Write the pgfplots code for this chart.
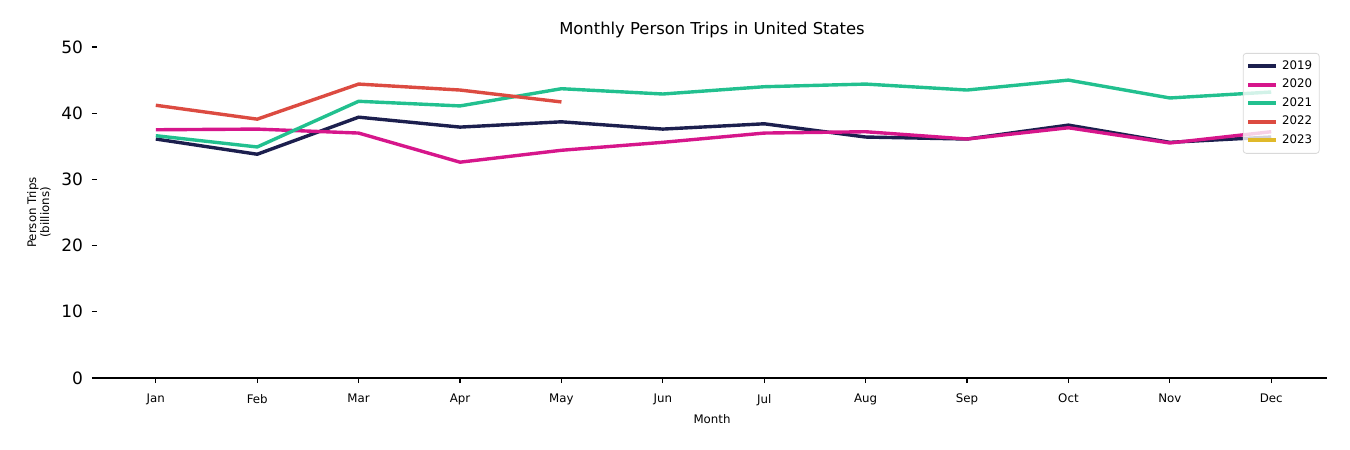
\documentclass[border=0pt]{standalone}
\usepackage{fontspec}
\setmainfont{DejaVu Sans}
\usepackage{pgfplots}
\pgfplotsset{compat=1.18}

\definecolor{c19}{HTML}{1C1F4E}
\definecolor{c20}{HTML}{D6168B}
\definecolor{c21}{HTML}{22C08F}
\definecolor{c22}{HTML}{DC4B41}
\definecolor{c23}{HTML}{E0B92A}

\begin{document}
\begin{tikzpicture}
\useasboundingbox (-48.5pt,-36pt) rectangle (626.5pt,189pt);
\begin{axis}[
scale only axis,
width=615pt, height=165.5pt,
xmin=-0.58, xmax=11.55,
ymin=0, ymax=50,
xtick={0,...,11},
xticklabels={Jan,Feb,Mar,Apr,May,Jun,Jul,Aug,Sep,Oct,Nov,Dec},
ytick={0,10,20,30,40,50},
axis x line*=bottom,
axis y line*=left,
y axis line style={draw=none},
x axis line style={line width=0.6pt},
tick align=outside,
major tick length=2.5pt,
tick style={black, line width=0.6pt},
/pgf/number format/assume math mode=true,
x tick label style={font=\fontsize{5.9}{7}\selectfont, yshift=-2pt},
y tick label style={font=\fontsize{8.5}{10}\selectfont, xshift=-1pt},
title={Monthly Person Trips in United States},
title style={font=\fontsize{8.2}{10}\selectfont, yshift=-5pt},
xlabel={Month},
xlabel style={font=\fontsize{5.9}{7}\selectfont, yshift=2.5pt},
ylabel={Person Trips\\(billions)},
ylabel style={font=\fontsize{5.9}{6.5}\selectfont, align=center, yshift=-1.5pt},
legend style={at={(0.994,0.982)}, anchor=north east,
  font=\fontsize{5.9}{7}\selectfont, draw=gray!30, rounded corners=1.5pt,
  fill=white, fill opacity=0.8, text opacity=1, row sep=-0.6pt,
  inner sep=1.5pt},
legend cell align=left,
legend image post style={line width=2pt},
legend image code/.code={\draw[#1] (0pt,0pt) -- (14pt,0pt);},
every axis plot/.append style={line width=1.7pt, line join=round},
]
\addplot[c19] coordinates {
(0,36.1) (1,33.8) (2,39.4) (3,37.9) (4,38.7) (5,37.6)
(6,38.4) (7,36.4) (8,36.1) (9,38.2) (10,35.6) (11,36.4)
};
\addlegendentry{2019}
\addplot[c20] coordinates {
(0,37.5) (1,37.6) (2,37.0) (3,32.6) (4,34.4) (5,35.6)
(6,37.0) (7,37.2) (8,36.1) (9,37.8) (10,35.5) (11,37.2)
};
\addlegendentry{2020}
\addplot[c21] coordinates {
(0,36.6) (1,34.9) (2,41.8) (3,41.1) (4,43.7) (5,42.9)
(6,44.0) (7,44.4) (8,43.5) (9,45.0) (10,42.3) (11,43.2)
};
\addlegendentry{2021}
\addplot[c22] coordinates {
(0,41.2) (1,39.1) (2,44.4) (3,43.5) (4,41.7)
};
\addlegendentry{2022}
\addlegendimage{c23, line width=1.7pt}
\addlegendentry{2023}
\end{axis}
\end{tikzpicture}
\end{document}
